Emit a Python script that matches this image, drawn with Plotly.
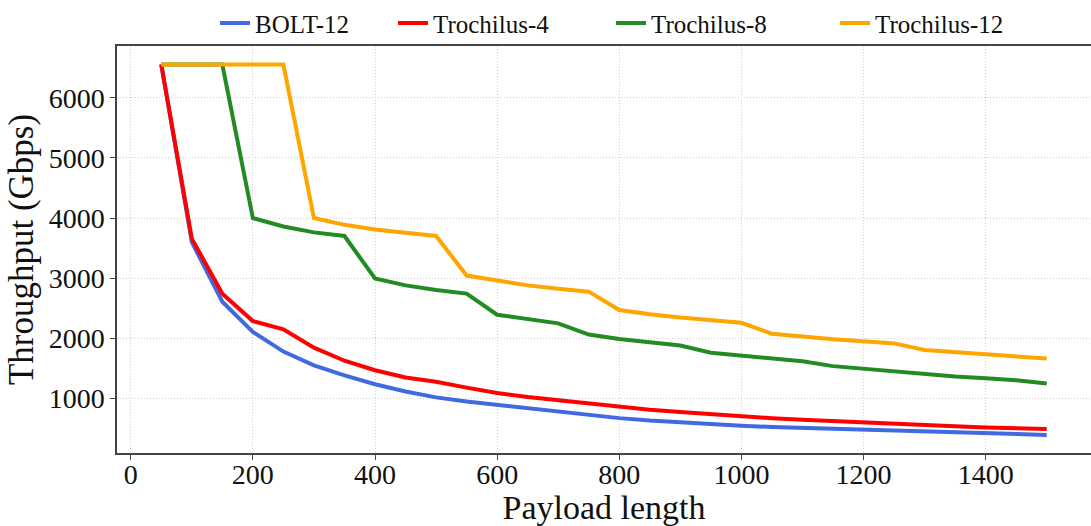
import plotly.graph_objects as go

payload = [50, 100, 150, 200, 250, 300, 350, 400, 450, 500,
           550, 600, 650, 700, 750, 800, 850, 900, 950, 1000,
           1050, 1100, 1150, 1200, 1250, 1300, 1350, 1400, 1450, 1500]

bolt12 = [6554, 3600, 2608, 2106, 1779, 1550, 1382, 1235, 1115, 1017,
          950, 893, 830, 770, 715, 672, 632, 598, 570, 546,
          525, 510, 495, 480, 464, 445, 428, 415, 404, 393]

trochilus4 = [6554, 3658, 2743, 2286, 2150, 1845, 1627, 1469, 1349, 1278,
              1180, 1090, 1025, 971, 911, 856, 813, 774, 736, 704,
              671, 645, 620, 597, 575, 553, 535, 518, 502, 491]

trochilus8 = [6554, 6554, 6554, 4000, 3860, 3762, 3702, 2994, 2880, 2804,
              2743, 2392, 2322, 2248, 2063, 1990, 1935, 1880, 1760, 1717,
              1662, 1619, 1537, 1493, 1455, 1401, 1363, 1336, 1303, 1248]

trochilus12 = [6554, 6554, 6554, 6554, 6554, 4000, 3887, 3811, 3752, 3703,
               3043, 2960, 2880, 2825, 2776, 2471, 2400, 2346, 2302, 2258,
               2075, 2024, 1984, 1950, 1915, 1805, 1766, 1733, 1700, 1662]

series_names = ["BOLT-12", "Trochilus-4", "Trochilus-8", "Trochilus-12"]
series_values = [bolt12, trochilus4, trochilus8, trochilus12]
series_colors = ["#4169E1", "#FF0000", "#228B22", "#FFA500"]
legend_ids = ["legend", "legend2", "legend3", "legend4"]
legend_x = [0.1006, 0.2834, 0.5072, 0.7372]

x_ticks = [0, 200, 400, 600, 800, 1000, 1200, 1400]
y_ticks = [1000, 2000, 3000, 4000, 5000, 6000]

FONT = "Liberation Serif, Times New Roman, serif"

fig = go.Figure()
for name, vals, col, lg in zip(series_names, series_values, series_colors, legend_ids):
    fig.add_trace(go.Scatter(x=payload, y=vals, mode="lines", name=name,
                             line=dict(color=col, width=4), legend=lg))

axis_common = dict(
    showline=True, linecolor="#444444", linewidth=1.5,
    ticks="outside", ticklen=5, tickwidth=1.2, tickcolor="#444444",
    showgrid=True, gridcolor="#cfcfcf", griddash="1px,2px", gridwidth=1,
    zeroline=False,
    tickfont=dict(family=FONT, size=28, color="#111111"),
)

fig.update_xaxes(range=[-22.5, 1572.5], tickvals=x_ticks, mirror=True,
                 ticklabelstandoff=-9,
                 title=dict(text="Payload length",
                            font=dict(family=FONT, size=34, color="#111111"),
                            standoff=4),
                 **axis_common)
fig.update_yaxes(range=[92, 6862], tickvals=y_ticks,
                 title=dict(text="Throughput (Gbps)",
                            font=dict(family=FONT, size=35, color="#111111"),
                            standoff=4),
                 **axis_common)

legend_style = dict(orientation="h", xanchor="left", y=1.056, yanchor="middle",
                    font=dict(family=FONT, size=25, color="#111111"),
                    bgcolor="rgba(0,0,0,0)", borderwidth=0, itemwidth=30)

layout_legends = {lg: dict(x=lx, **legend_style) for lg, lx in zip(legend_ids, legend_x)}

fig.update_layout(
    width=1091, height=526,
    margin=dict(l=117, r=0, t=39, b=73),
    paper_bgcolor="white", plot_bgcolor="white",
    font=dict(family=FONT, color="#111111"),
    showlegend=True,
    **layout_legends,
)

fig.write_html("out.html")
